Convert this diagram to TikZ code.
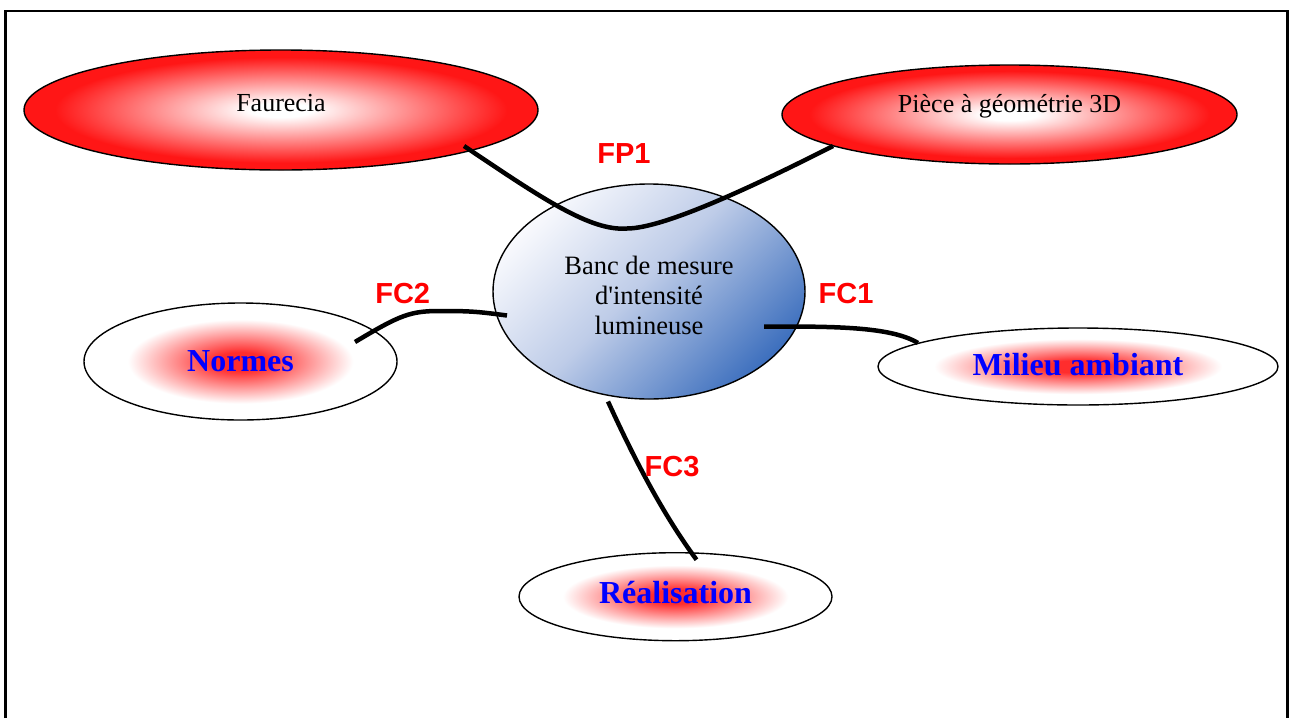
\documentclass[tikz,border=0pt]{standalone}
\usepackage{fontspec}
\setmainfont{Liberation Serif}[Ligatures=TeXOff]
\newfontfamily\arialf{Liberation Sans}
\usetikzlibrary{shapes.geometric,calc}
\definecolor{redE}{RGB}{255,22,22}
\definecolor{redC}{RGB}{255,45,45}
\definecolor{blueD}{RGB}{62,112,190}
\definecolor{blueM}{RGB}{190,204,232}
\definecolor{blueP}{RGB}{248,249,253}
\pgfdeclareradialshading{redrim}{\pgfpoint{0bp}{0bp}}{color(0bp)=(white); color(3bp)=(white); color(22bp)=(redE); color(50bp)=(redE)}
\pgfdeclareradialshading{redcore}{\pgfpoint{0bp}{0bp}}{color(0bp)=(redC); color(4bp)=(redC); color(18bp)=(white); color(50bp)=(white)}
\pgfdeclareverticalshading{bluegrad}{100bp}{color(0bp)=(blueD); color(25bp)=(blueD); color(52bp)=(blueM); color(75bp)=(blueP); color(100bp)=(blueP)}
\tikzset{
  ell/.style={ellipse, draw=black, line width=1.4pt, inner sep=0pt},
  hot/.style={ell, shading=redrim},
  cool/.style={ell, shading=redcore},
  conn/.style={line width=4.5pt, draw=black},
  flabel/.style={font=\arialf\bfseries\fontsize{29}{34}\selectfont, text=red, anchor=base, inner sep=0pt},
  txtblack/.style={font=\fontsize{26}{30}\selectfont, text=black},
  txtblue/.style={font=\bfseries\fontsize{32}{36}\selectfont, text=blue},
}
\begin{document}
\begin{tikzpicture}[x=1pt, y=-1pt]
\useasboundingbox (0,0) rectangle (1289,718);
% frame
\draw[line width=2.5pt] (5.5,718) -- (5.5,11) -- (1287.5,11) -- (1287.5,718);

% nodes
\node[hot, txtblack, minimum width=514pt, minimum height=120pt, text height=18pt, text depth=14.6pt] (faurecia) at (281,110) {Faurecia};
\node[hot, txtblack, minimum width=455pt, minimum height=99pt, text height=18pt, text depth=23pt] (piece) at (1009.5,114.5) {Pièce à géométrie 3D};
\node[ell, shading=bluegrad, shading angle=45, align=center, font=\fontsize{26.5}{30}\selectfont, minimum width=312pt, minimum height=215pt] (banc) at (649,291.5) {\rule{0pt}{25.5pt}Banc de mesure\\d'intensité\\lumineuse};
\node[cool, txtblue, minimum width=313pt, minimum height=117pt, text height=22pt, text depth=2pt] (normes) at (240.5,361.5) {Normes};
\node[cool, txtblue, minimum width=400pt, minimum height=77pt, text height=22pt, text depth=5pt] (milieu) at (1078,366.5) {Milieu ambiant};
\node[cool, txtblue, minimum width=313pt, minimum height=88pt, text height=22pt, text depth=9.4pt] (realisation) at (675.5,596.7) {Réalisation};

% connector end points
\path (faurecia.center) ++(183,36) coordinate (fp1a);
\path (piece.center) ++(-176.5,31.5) coordinate (fp1b);
\path (banc.center) ++(-22,-63) coordinate (fp1m);
\path (normes.center) ++(114.5,-19.5) coordinate (fc2a);
\path (normes.center) ++(199.5,-50.5) coordinate (fc2m);
\path (banc.center) ++(-142,24) coordinate (fc2b);
\path (banc.center) ++(115,35) coordinate (fc1a);
\path (milieu.center) ++(-160,-23.5) coordinate (fc1b);
\path (banc.center) ++(-41,110) coordinate (fc3a);
\path (realisation.center) ++(21,-37) coordinate (fc3b);

% connectors
\draw[conn] (fp1a) .. controls +(76,51) and +(-37,3) .. (fp1m) .. controls +(38,0) and +(-73,37) .. (fp1b);
\draw[conn] (fc2a) .. controls +(45,-27) and +(-30,0) .. (fc2m) .. controls +(30,0) and +(-30,-4) .. (fc2b);
\draw[conn] (fc1a) .. controls +(66,0) and +(-28,-17) .. (fc1b);
\draw[conn] (fc3a) .. controls +(22,48) and +(-37,-50) .. (fc3b);

% labels
\node[flabel] (fp1) at (624,163) {FP1};
\node[flabel] (fc2) at (402.7,303.3) {FC2};
\node[flabel] (fc1) at (846,303) {FC1};
\node[flabel] (fc3) at (672,476.7) {FC3};
\end{tikzpicture}
\end{document}
